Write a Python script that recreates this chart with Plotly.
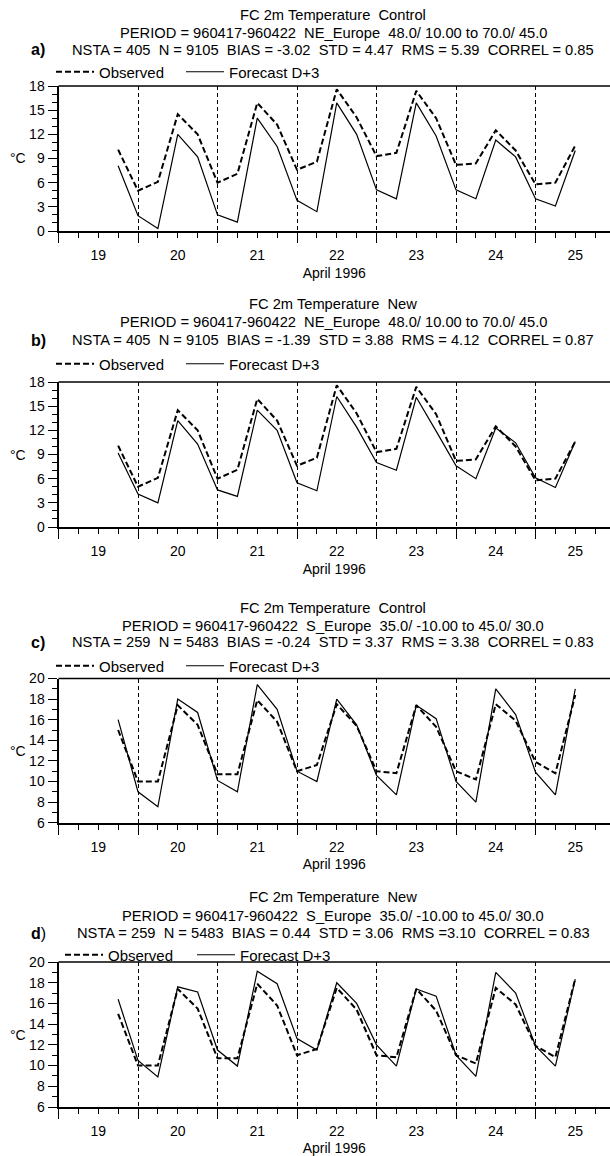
import plotly.graph_objects as go

# ---------------- data ----------------
times = [
    "1996-04-19 18:00", "1996-04-20 00:00", "1996-04-20 06:00", "1996-04-20 12:00",
    "1996-04-20 18:00", "1996-04-21 00:00", "1996-04-21 06:00", "1996-04-21 12:00",
    "1996-04-21 18:00", "1996-04-22 00:00", "1996-04-22 06:00", "1996-04-22 12:00",
    "1996-04-22 18:00", "1996-04-23 00:00", "1996-04-23 06:00", "1996-04-23 12:00",
    "1996-04-23 18:00", "1996-04-24 00:00", "1996-04-24 06:00", "1996-04-24 12:00",
    "1996-04-24 18:00", "1996-04-25 00:00", "1996-04-25 06:00", "1996-04-25 12:00",
]

obs_ne = [10.1, 5.0, 6.1, 14.5, 12.0, 6.0, 7.1, 15.9, 13.2, 7.6, 8.6, 17.6,
          14.1, 9.3, 9.7, 17.4, 14.0, 8.2, 8.4, 12.5, 10.0, 5.8, 6.0, 10.6]
fc_a = [8.1, 1.9, 0.3, 12.0, 9.2, 2.0, 1.1, 14.0, 10.5, 3.8, 2.4, 15.9,
        12.0, 5.1, 4.0, 15.9, 11.8, 5.1, 4.0, 11.3, 9.2, 4.0, 3.1, 10.0]
fc_b = [9.2, 4.1, 3.0, 13.2, 10.3, 4.6, 3.8, 14.5, 12.0, 5.5, 4.5, 16.2,
        12.4, 8.0, 7.05, 16.1, 11.9, 7.6, 6.0, 12.3, 10.45, 6.1, 4.9, 10.6]

obs_s = [15.0, 10.0, 10.0, 17.4, 15.5, 10.7, 10.7, 17.9, 15.8, 11.0, 11.6, 17.5,
         15.4, 11.0, 10.8, 17.4, 15.3, 11.0, 10.2, 17.5, 15.9, 11.9, 10.8, 18.4]
fc_c = [16.0, 9.0, 7.55, 18.0, 16.7, 10.1, 9.0, 19.4, 17.0, 11.0, 10.0, 18.0,
        15.5, 10.6, 8.7, 17.4, 16.1, 10.0, 8.0, 19.0, 16.5, 10.9, 8.7, 19.0]
fc_d = [16.4, 10.5, 8.9, 17.6, 17.1, 11.5, 9.95, 19.1, 17.9, 12.6, 11.5, 18.0,
        16.0, 12.0, 9.95, 17.4, 16.7, 11.0, 8.95, 19.0, 17.0, 11.9, 9.95, 18.35]

titles = ["FC 2m Temperature  Control", "FC 2m Temperature  New",
          "FC 2m Temperature  Control", "FC 2m Temperature  New"]
periods = ["PERIOD = 960417-960422  NE_Europe  48.0/ 10.00 to 70.0/ 45.0",
           "PERIOD = 960417-960422  NE_Europe  48.0/ 10.00 to 70.0/ 45.0",
           "PERIOD = 960417-960422  S_Europe  35.0/ -10.00 to 45.0/ 30.0",
           "PERIOD = 960417-960422  S_Europe  35.0/ -10.00 to 45.0/ 30.0"]
stats = ["NSTA = 405  N = 9105  BIAS = -3.02  STD = 4.47  RMS = 5.39  CORREL = 0.85",
         "NSTA = 405  N = 9105  BIAS = -1.39  STD = 3.88  RMS = 4.12  CORREL = 0.87",
         "NSTA = 259  N = 5483  BIAS = -0.24  STD = 3.37  RMS = 3.38  CORREL = 0.83",
         "NSTA = 259  N = 5483  BIAS = 0.44  STD = 3.06  RMS =3.10  CORREL = 0.83"]
labels = ["<b>a)</b>", "<b>b)</b>", "<b>c)</b>", "<b>d</b>)"]
series_obs = [obs_ne, obs_ne, obs_s, obs_s]
series_fc = [fc_a, fc_b, fc_c, fc_d]
yranges = [[0, 18], [0, 18], [6, 20], [6, 20]]
ydticks = [3, 3, 2, 2]
x_title = "April 1996"
unit = "°C"

# ---------------- layout geometry (pixels) ----------------
W, H = 610, 1156
plot_top = [86, 382, 678.5, 962]
plot_bot = [231, 527, 822.7, 1107]
text_y = [(15, 33, 50), (304, 322, 340), (608, 626, 642), (897, 916, 933)]
legend_y = [72, 364, 666, 955]
legend_x_obs = [51, 51, 51, 60]
legend_x_fc = [181, 181, 181, 192]
x_left = 58.5
text_cx = 333

def py(v):
    return 1 - v / H

def px(v):
    return v / W

FONT = "Liberation Sans, Arial, sans-serif"
fig = go.Figure()
layout = dict(
    width=W, height=H, margin=dict(l=0, r=0, t=0, b=0),
    paper_bgcolor="white", plot_bgcolor="white",
    font=dict(family=FONT, size=14, color="black"),
    template="none", showlegend=True,
)
annotations = []
shapes = []

def legend_cfg(x, y):
    return dict(orientation="h", x=px(x), y=py(y), xanchor="left", yanchor="middle",
                font=dict(size=15), bgcolor="rgba(0,0,0,0)", itemwidth=38)

for i in range(4):
    k = i + 1
    xa = "x" if k == 1 else f"x{k}"
    ya = "y" if k == 1 else f"y{k}"
    lg_o = "legend" if k == 1 else f"legend{k}"
    lg_f = f"legend{k + 4}"
    fig.add_trace(go.Scatter(
        x=times, y=series_obs[i], mode="lines", name="Observed",
        line=dict(color="black", width=2, dash="6px,3px"),
        xaxis=xa, yaxis=ya, legend=lg_o, hoverinfo="skip"))
    fig.add_trace(go.Scatter(
        x=times, y=series_fc[i], mode="lines", name="Forecast D+3",
        line=dict(color="black", width=1.2),
        xaxis=xa, yaxis=ya, legend=lg_f, hoverinfo="skip"))

    xkey = "xaxis" if k == 1 else f"xaxis{k}"
    ykey = "yaxis" if k == 1 else f"yaxis{k}"
    layout[xkey] = dict(
        type="date", range=["1996-04-19 00:00", "1996-04-25 22:29"],
        domain=[px(x_left), 1], anchor=ya,
        tick0="1996-04-19", dtick=86400000, tickformat="%d",
        ticklabelmode="period", ticks="outside", ticklen=10, tickwidth=1.2,
        tickcolor="black", showline=True, linewidth=2, linecolor="black",
        showgrid=True, gridcolor="black", gridwidth=1, griddash="4px,3px",
        zeroline=False,
        minor=dict(dtick=21600000, tick0="1996-04-19", ticks="outside",
                   ticklen=5, tickwidth=1.2, tickcolor="black", showgrid=False),
        tickfont=dict(size=14),
        title=dict(text=x_title, font=dict(size=14), standoff=6),
        fixedrange=True,
    )
    layout[ykey] = dict(
        range=yranges[i], tick0=yranges[i][0], dtick=ydticks[i],
        domain=[py(plot_bot[i]), py(plot_top[i])], anchor=xa,
        ticks="outside", ticklen=9, tickwidth=1.2, tickcolor="black",
        showline=True, linewidth=2, linecolor="black",
        showgrid=False, zeroline=False,
        minor=dict(dtick=1, ticks="outside", ticklen=5, tickwidth=1, tickcolor="black"),
        tickfont=dict(size=14), fixedrange=True,
    )
    layout[lg_o] = legend_cfg(legend_x_obs[i], legend_y[i])
    layout[lg_f] = legend_cfg(legend_x_fc[i], legend_y[i])
    shapes.append(dict(type="line", xref=f"{xa} domain", yref=f"{ya} domain",
                       x0=0, x1=1, y0=1, y1=1, line=dict(color="black", width=1.5)))
    t1, t2, t3 = text_y[i]
    for txt, yy in ((titles[i], t1), (periods[i], t2), (stats[i], t3)):
        annotations.append(dict(text=txt, x=px(text_cx), y=py(yy), xref="paper", yref="paper",
                                xanchor="center", yanchor="middle", showarrow=False,
                                font=dict(size=14.7)))
    annotations.append(dict(text=labels[i], x=px(38), y=py(t3), xref="paper", yref="paper",
                            xanchor="center", yanchor="middle", showarrow=False,
                            font=dict(size=16)))
    annotations.append(dict(text=unit, x=px(18), y=py((plot_top[i] + plot_bot[i]) / 2),
                            xref="paper", yref="paper", xanchor="center", yanchor="middle",
                            showarrow=False, font=dict(size=14)))

layout["annotations"] = annotations
layout["shapes"] = shapes
fig.update_layout(**layout)
fig.write_html("out.html", config={"displayModeBar": False},
               post_script="document.body.style.margin='0px';")
